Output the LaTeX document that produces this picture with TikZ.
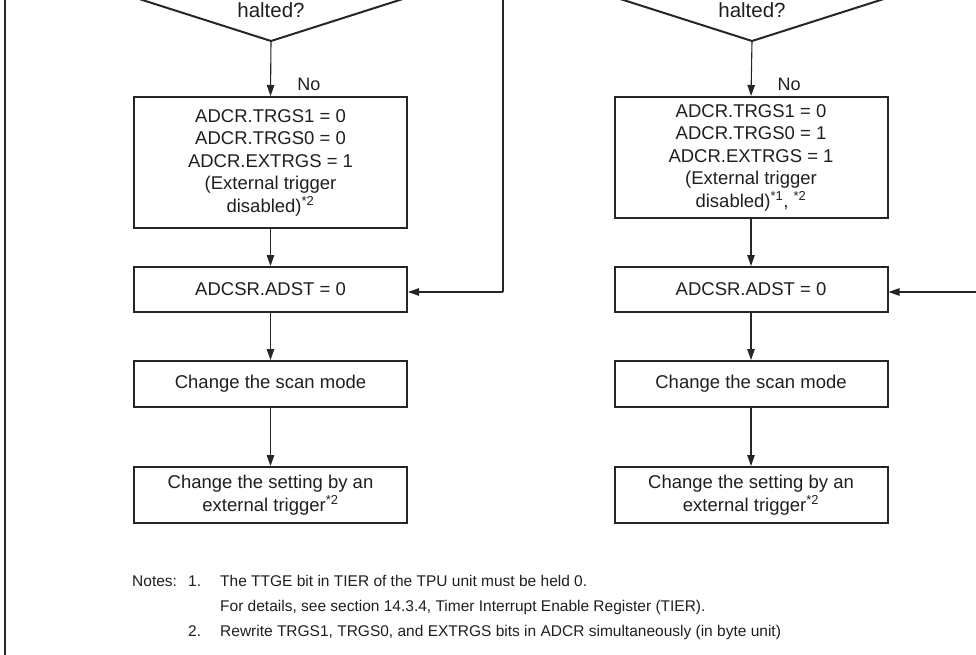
\documentclass[tikz,border=0pt]{standalone}
\usepackage{fontspec}
\setmainfont{Liberation Sans}
\usetikzlibrary{arrows.meta}
\newcommand\astsup[1]{\textsuperscript{*#1}}
\begin{document}
\begin{tikzpicture}[x=1pt,y=-1pt,
  box/.style={draw=black!85, line width=2pt, align=center, text=black!88,
    font=\fontsize{18.5}{22.5}\selectfont, minimum width=273pt, inner sep=0pt},
  conn/.style={line width=1.1pt, draw=black!85,
    -{Triangle[length=11pt,width=7.5pt]}},
  plainline/.style={line width=1.1pt, draw=black!85},
  diamline/.style={line width=2pt, draw=black!85},
  lbl/.style={text=black!88, font=\fontsize{18}{22.5}\selectfont, inner sep=0pt},
  qlbl/.style={text=black!88, font=\fontsize{20.5}{24}\selectfont, inner sep=0pt},
  note/.style={text=black!88, font=\fontsize{15.5}{19}\selectfont, inner sep=0pt, anchor=base west}]
\useasboundingbox (0,0) rectangle (976,655);
\clip (0,0) rectangle (976,655);

% frame line on the left
\draw[line width=2pt, black!85] (5,-5) -- (5,660);

% ---------- left column ----------
\coordinate (d1) at (271,41);
\draw[diamline, line join=miter] (111,-10) -- (d1) -- (431,-10);
\node[qlbl] (h1) at (271,10) {halted?};
\node[box, minimum height=131pt] (l1) at (270.5,162.5)
  {ADCR.TRGS1 = 0\\ADCR.TRGS0 = 0\\ADCR.EXTRGS = 1\\(External trigger\\disabled)\astsup{2}};
\node[box, minimum height=45pt] (l2) at (270.5,289.5) {ADCSR.ADST = 0};
\node[box, minimum height=46pt] (l3) at (270.5,384) {Change the scan mode};
\node[box, minimum height=56pt] (l4) at (270.5,495)
  {Change the setting by an\\external trigger\astsup{2}};
\node[lbl] (no1) at (309,84) {No};

\draw[conn] (d1) -- (l1.north);
\draw[conn] (l1) -- (l2);
\draw[conn] (l2) -- (l3);
\draw[conn] (l3) -- (l4);
\coordinate (lt) at (503,-5);
\coordinate (lc) at (503,292);
\draw[plainline] (lt) -- (lc);
\draw[conn] (lc) -- (l2.east |- lc);

% ---------- right column ----------
\coordinate (d2) at (752,41);
\draw[diamline, line join=miter] (592,-10) -- (d2) -- (912,-10);
\node[qlbl] (h2) at (752,10) {halted?};
\node[box, minimum height=121pt] (r1) at (751,157.5)
  {ADCR.TRGS1 = 0\\ADCR.TRGS0 = 1\\ADCR.EXTRGS = 1\\(External trigger\\disabled)\astsup{1}, \astsup{2}};
\node[box, minimum height=45pt] (r2) at (751,289.5) {ADCSR.ADST = 0};
\node[box, minimum height=46pt] (r3) at (751,384) {Change the scan mode};
\node[box, minimum height=56pt] (r4) at (751,495)
  {Change the setting by an\\external trigger\astsup{2}};
\node[lbl] (no2) at (789,84) {No};

\draw[conn] (d2) -- (r1.north);
\draw[conn] (r1) -- (r2);
\draw[conn] (r2) -- (r3);
\draw[conn] (r3) -- (r4);
\coordinate (rc) at (980,292);
\draw[conn] (rc) -- (r2.east |- rc);

% ---------- notes ----------
\node[note] (nn) at (132,586) {Notes:};
\node[note] (n1) at (188,586) {1.};
\node[note] (t1) at (220,586) {The TTGE bit in TIER of the TPU unit must be held 0.};
\node[note] (t1b) at (220,611) {For details, see section 14.3.4, Timer Interrupt Enable Register (TIER).};
\node[note] (n2) at (188,636) {2.};
\node[note] (t2) at (220,636) {Rewrite TRGS1, TRGS0, and EXTRGS bits in ADCR simultaneously (in byte unit)};
\end{tikzpicture}
\end{document}
